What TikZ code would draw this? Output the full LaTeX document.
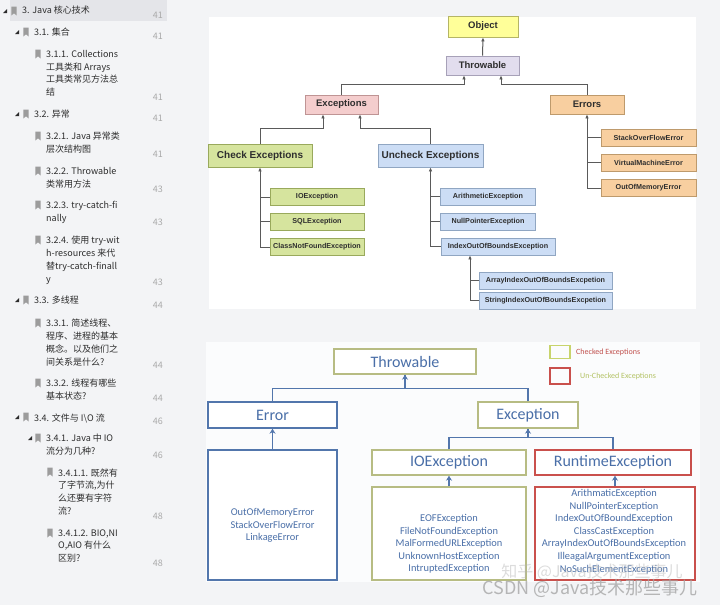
\documentclass[tikz,border=0pt]{standalone}
\usepackage{fontspec}
\setmainfont{Liberation Sans}
\newfontfamily\arialf{Liberation Sans}
\newfontfamily\calf{Carlito}
\newfontfamily\cjkf{Noto Sans CJK SC}
\usetikzlibrary{arrows.meta}
\definecolor{pagebg}{HTML}{F3F4F6}
\definecolor{hlbar}{HTML}{E4E5E9}
\definecolor{sidetxt}{HTML}{2C2C2C}
\definecolor{pagenum}{HTML}{AAAAAA}
\definecolor{iconc}{HTML}{9C9C9C}
\definecolor{objfill}{HTML}{FFFF99}
\definecolor{objdraw}{HTML}{B5B565}
\definecolor{thrfill}{HTML}{E2DDEE}
\definecolor{thrdraw}{HTML}{A7A1B8}
\definecolor{excfill}{HTML}{F4CDCD}
\definecolor{excdraw}{HTML}{BF9494}
\definecolor{errfill}{HTML}{F8CFA0}
\definecolor{errdraw}{HTML}{BE9A6C}
\definecolor{grnfill}{HTML}{D6E49E}
\definecolor{grndraw}{HTML}{99A95C}
\definecolor{blufill}{HTML}{CCDDF5}
\definecolor{bludraw}{HTML}{90A6C2}
\definecolor{tgrey}{HTML}{5A5A5A}
\definecolor{tdark}{HTML}{2E2E2E}
\definecolor{bpanel}{HTML}{FBFCFD}
\definecolor{bblue}{HTML}{5276AC}
\definecolor{btext}{HTML}{4A6FA8}
\definecolor{bolive}{HTML}{B7BC83}
\definecolor{bred}{HTML}{C9504C}
\definecolor{legred}{HTML}{C0504D}
\definecolor{leggrn}{HTML}{B3C264}
\definecolor{leggbox}{HTML}{C8D46C}
\newcommand{\sbmark}[2]{\fill[iconc] (#1-2.7,#2-4.5) -- (#1+2.7,#2-4.5) -- (#1+2.7,#2+4.5) -- (#1,#2+2.3) -- (#1-2.7,#2+4.5) -- cycle;}
\newcommand{\sbtri}[2]{\fill[sidetxt] (#1+2,#2-2) -- (#1+2,#2+2) -- (#1-2,#2+2) -- cycle;}
\tikzset{
  side/.style={anchor=north west, inner sep=0pt, align=left, font=\cjkf\fontsize{9}{12.7}\selectfont, text=sidetxt, yshift=-1.2pt},
  pnum/.style={anchor=east, inner sep=0pt, font=\cjkf\fontsize{9}{10}\selectfont, text=pagenum},
  tbig/.style={draw, line width=0.8pt, inner sep=0pt, text=tdark, font=\arialf\bfseries\fontsize{9.5}{11}\selectfont},
  tmid/.style={draw, line width=0.8pt, inner sep=0pt, text=tdark, font=\arialf\bfseries\fontsize{10}{12}\selectfont},
  tsm/.style={draw, line width=0.8pt, inner sep=0pt, text=tdark, font=\arialf\bfseries\fontsize{7.2}{8.5}\selectfont, minimum height=17pt},
  tln/.style={draw=tgrey, line width=1pt},
  tarr/.style={draw=tgrey, line width=1pt, -{Latex[length=4pt,width=3.6pt]}},
  bbox/.style={draw, line width=1.4pt, inner sep=0pt, fill=white, text=btext, font=\calf\fontsize{16}{18}\selectfont},
  btxt/.style={inner sep=0pt, align=center, text=btext, font=\calf\fontsize{10.4}{12.6}\selectfont},
  bln/.style={draw=bblue, line width=1.4pt},
  barr/.style={draw=bblue, line width=1.4pt, -{Stealth[length=5pt,width=6pt]}}
}
\begin{document}
\begin{tikzpicture}[x=1pt,y=-1pt]
\useasboundingbox (0,0) rectangle (720,605);
\fill[pagebg] (0,0) rectangle (720,605);
\fill[hlbar] (10,0) rectangle (167,21);
\fill[white] (209,17) rectangle (696,309);
\fill[bpanel] (206,342) rectangle (700,582);

% ---------------- sidebar ----------------
\sbtri{5}{11}\sbmark{14}{11}
\node[side] (s1) at (22,5) {3. Java 核心技术};
\node[pnum] (p1) at (163,15) {41};
\sbtri{17}{32}\sbmark{26}{32}
\node[side] (s2) at (34,27) {3.1. 集合};
\node[pnum] (p2) at (163,36) {41};
\sbmark{38}{54}
\node[side] (s3) at (46,49) {3.1.1. Collections\\工具类和 Arrays\\工具类常见方法总\\结};
\node[pnum] (p3) at (163,97) {41};
\sbtri{17}{114}\sbmark{26}{114}
\node[side] (s4) at (34,109) {3.2. 异常};
\node[pnum] (p4) at (163,118) {41};
\sbmark{38}{136}
\node[side] (s5) at (46,131) {3.2.1. Java 异常类\\层次结构图};
\node[pnum] (p5) at (163,154) {41};
\sbmark{38}{171}
\node[side] (s6) at (46,166) {3.2.2. Throwable\\类常用方法};
\node[pnum] (p6) at (163,189) {43};
\sbmark{38}{205}
\node[side] (s7) at (46,200) {3.2.3. try-catch-fi\\nally};
\node[pnum] (p7) at (163,222) {43};
\sbmark{38}{240}
\node[side] (s8) at (46,235) {3.2.4. 使用 try-wit\\h-resources 来代\\替try-catch-finall\\y};
\node[pnum] (p8) at (163,282) {43};
\sbtri{17}{300}\sbmark{26}{300}
\node[side] (s9) at (34,295) {3.3. 多线程};
\node[pnum] (p9) at (163,305) {44};
\sbmark{38}{323}
\node[side] (s10) at (46,318) {3.3.1. 简述线程、\\程序、进程的基本\\概念。以及他们之\\间关系是什么?};
\node[pnum] (p10) at (163,365) {44};
\sbmark{38}{383}
\node[side] (s11) at (46,378) {3.3.2. 线程有哪些\\基本状态?};
\node[pnum] (p11) at (163,398) {44};
\sbtri{17}{417}\sbmark{26}{417}
\node[side] (s12) at (34,412) {3.4. 文件与 I\textbackslash O 流};
\node[pnum] (p12) at (163,421) {46};
\sbtri{30}{438}\sbmark{38}{438}
\node[side] (s13) at (46,433) {3.4.1. Java 中 IO\\流分为几种?};
\node[pnum] (p13) at (163,455) {46};
\sbmark{50}{472}
\node[side] (s14) at (58,467) {3.4.1.1. 既然有\\了字节流,为什\\么还要有字符\\流?};
\node[pnum] (p14) at (163,516) {48};
\sbmark{50}{533}
\node[side] (s15) at (58,528) {3.4.1.2. BIO,NI\\O,AIO 有什么\\区别?};
\node[pnum] (p15) at (163,563) {48};

% ---------------- top diagram ----------------
\node[tbig, fill=objfill, draw=objdraw, minimum width=70pt, minimum height=21pt] (obj) at (483,26.5) {Object};
\node[tbig, fill=thrfill, draw=thrdraw, minimum width=73pt, minimum height=19pt] (thr) at (482.5,65.5) {Throwable};
\node[tbig, fill=excfill, draw=excdraw, minimum width=73pt, minimum height=19pt] (exc) at (341.5,104.5) {Exceptions};
\node[tbig, fill=errfill, draw=errdraw, minimum width=74pt, minimum height=19pt] (err) at (587,104.5) {Errors};
\node[tmid, fill=grnfill, draw=grndraw, minimum width=104pt, minimum height=23pt] (chk) at (260,155.5) {Check Exceptions};
\node[tmid, fill=blufill, draw=bludraw, minimum width=105pt, minimum height=23pt] (unc) at (430.5,155.5) {Uncheck Exceptions};
\node[tsm, fill=grnfill, draw=grndraw, minimum width=94pt] (io) at (317,197) {IOException};
\node[tsm, fill=grnfill, draw=grndraw, minimum width=94pt] (sql) at (317,221.5) {SQLException};
\node[tsm, fill=grnfill, draw=grndraw, minimum width=94pt] (cnf) at (317,247) {ClassNotFoundException};
\node[tsm, fill=blufill, draw=bludraw, minimum width=95pt] (ari) at (488,196.5) {ArithmeticException};
\node[tsm, fill=blufill, draw=bludraw, minimum width=95pt] (npe) at (488,221.5) {NullPointerException};
\node[tsm, fill=blufill, draw=bludraw, minimum width=114pt] (ioob) at (498,246.5) {IndexOutOfBoundsException};
\node[tsm, fill=blufill, draw=bludraw, minimum width=133pt] (aioob) at (545.5,280.5) {ArrayIndexOutOfBoundsExcpetion};
\node[tsm, fill=blufill, draw=bludraw, minimum width=133pt] (sioob) at (545.5,300.5) {StringIndexOutOfBoundsExcpetion};
\node[tsm, fill=errfill, draw=errdraw, minimum width=95pt] (soe) at (648.5,137.5) {StackOverFlowError};
\node[tsm, fill=errfill, draw=errdraw, minimum width=95pt] (vme) at (648.5,162.5) {VirtualMachineError};
\node[tsm, fill=errfill, draw=errdraw, minimum width=95pt] (oom) at (648.5,188) {OutOfMemoryError};

\draw[tarr] (thr.north) -- (obj.south);
\draw[tarr] (exc.north) -- ++(0,-10) -| ([xshift=-18.5pt]thr.south);
\draw[tarr] (err.north) -- ++(0,-10) -| ([xshift=18.5pt]thr.south);
\draw[tarr] (chk.north) -- ++(0,-15) -| ([xshift=-18.5pt]exc.south);
\draw[tarr] (unc.north) -- ++(0,-15) -| ([xshift=18.5pt]exc.south);
\draw[tarr] (cnf.west) -| (chk.south);
\draw[tln] (io.west) -- (io.west -| chk.south);
\draw[tln] (sql.west) -- (sql.west -| chk.south);
\draw[tarr] (ioob.west) -| (unc.south);
\draw[tln] (ari.west) -- (ari.west -| unc.south);
\draw[tln] (npe.west) -- (npe.west -| unc.south);
\coordinate (ioobx) at ([xshift=-28pt]ioob.south);
\draw[tarr] (sioob.west) -| (ioobx);
\draw[tln] (aioob.west) -- (aioob.west -| ioobx);
\draw[tarr] (oom.west) -| (err.south);
\draw[tln] (soe.west) -- (soe.west -| err.south);
\draw[tln] (vme.west) -- (vme.west -| err.south);

% ---------------- bottom diagram ----------------
\node[bbox, draw=bolive, minimum width=142pt, minimum height=25pt] (bthr) at (405,361.5) {Throwable};
\node[bbox, draw=bblue, minimum width=129pt, minimum height=26pt] (berr) at (272.5,415) {Error};
\node[bbox, draw=bolive, minimum width=100pt, minimum height=26pt] (bexc) at (528,415) {Exception};
\node[bbox, draw=bolive, minimum width=154pt, minimum height=25pt] (bio) at (449,462.5) {IOException};
\node[bbox, draw=bred, minimum width=156pt, minimum height=25pt] (brt) at (613,462.5) {RuntimeException};
\node[bbox, draw=bblue, minimum width=129pt, minimum height=130pt] (berrc) at (272.5,515) {};
\node[bbox, draw=bolive, minimum width=154pt, minimum height=93pt] (bioc) at (449,533.5) {};
\node[bbox, draw=bred, minimum width=160pt, minimum height=93pt] (brtc) at (615,533.5) {};
\node[btxt] (berrt) at (272.5,525.5) {OutOfMemoryError\\StackOverFlowError\\LinkageError};
\node[btxt] (biot) at (449,544) {EOFException\\FileNotFoundException\\MalFormedURLException\\UnknownHostException\\IntruptedException};
\node[btxt] (brtt) at (614,531.5) {ArithmaticException\\NullPointerException\\IndexOutOfBoundException\\ClassCastException\\ArrayIndexOutOfBoundsException\\IlleagalArgumentException\\NoSuchElementException};

\draw[barr] (berr.north) -- ++(0,-13) -| (bthr.south);
\draw[bln] (bexc.north) -- ++(0,-13) -| (bthr.south);
\draw[barr] (berrc.north) -- (berr.south);
\draw[barr] (bio.north) -- ++(0,-12) -| (bexc.south);
\draw[bln] (brt.north) -- ++(0,-12) -| (bexc.south);
\draw[barr] (bioc.north) -- (bio.south);
\draw[barr] (brtc.north) -- (brtc.north |- brt.south);

% legend
\node[draw=leggbox, line width=1.4pt, minimum width=20pt, minimum height=13pt, inner sep=0pt] (lg1) at (560,352) {};
\node[anchor=west, inner sep=0pt, text=legred, font=\calf\fontsize{8}{9}\selectfont] (lgt1) at (576,352) {Checked Exceptions};
\node[draw=bred, line width=1.4pt, minimum width=20pt, minimum height=16pt, inner sep=0pt] (lg2) at (560,376) {};
\node[anchor=west, inner sep=0pt, text=leggrn, font=\calf\fontsize{8}{9}\selectfont] (lgt2) at (580,376) {Un-Checked Exceptions};

% watermarks
\node[inner sep=0pt, text=gray!60, opacity=0.45, font=\cjkf\fontsize{16}{16}\selectfont] (wm1) at (592,572) {知乎 @Java技术那些事儿};
\node[inner sep=0pt, text=gray!70, opacity=0.8, font=\cjkf\fontsize{18}{18}\selectfont] (wm2) at (590,588) {CSDN @Java技术那些事儿};
\end{tikzpicture}
\end{document}
